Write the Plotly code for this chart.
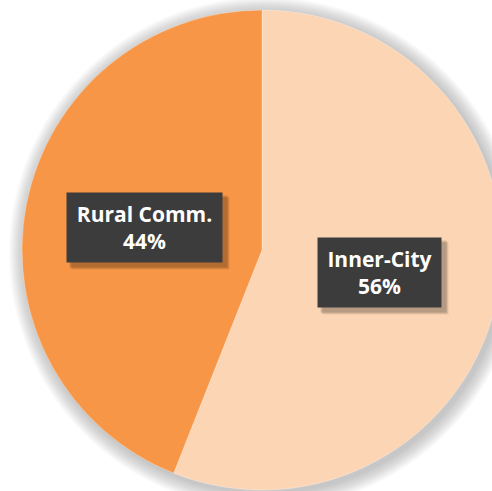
import math
import plotly.graph_objects as go

labels = ["Inner-City", "Rural Comm."]
values = [56, 44]
colors = ["#FCD5B4", "#F79646"]

W, H = 502, 491
CX, CY, R = 262, 250, 240  # pixel center / radius (from top-left)

fig = go.Figure()
fig.add_trace(go.Pie(
    labels=labels, values=values, sort=False, direction="clockwise", rotation=0,
    marker=dict(colors=colors, line=dict(color="rgba(255,255,255,0.5)", width=0.6)),
    textinfo="none", hoverinfo="label+percent", showlegend=False,
    domain=dict(x=[(CX - R) / W, (CX + R) / W], y=[(H - CY - R) / H, (H - CY + R) / H]),
))

shapes = []
for k in range(16, 0, -1):
    rr = R + k
    shapes.append(dict(type="circle", xref="paper", yref="paper", layer="below",
                       x0=(CX - rr + 3) / W, x1=(CX + rr + 3) / W,
                       y0=(H - CY - rr - 3) / H, y1=(H - CY + rr - 3) / H,
                       fillcolor="rgba(120,120,120,0.03)", line=dict(width=0)))

annotations = []
total = sum(values)
cum = 0
for lab, v in zip(labels, values):
    mid = (cum + v / 2) / total * 2 * math.pi
    cum += v
    px = CX + 0.5 * R * math.sin(mid)
    py = CY - 0.5 * R * math.cos(mid)
    bw = 155 if len(lab) > 10 else 123
    txt = f"<b>{lab}<br>{round(v / total * 100)}%</b>"
    for s, a in ((6, 0.08), (5, 0.1), (4, 0.12)):
        annotations.append(dict(x=(px + s) / W, y=(H - py - s) / H, xref="paper", yref="paper",
                                text=" ", showarrow=False, width=bw, height=69,
                                bgcolor=f"rgba(0,0,0,{a})", xanchor="center", yanchor="middle"))
    annotations.append(dict(x=px / W, y=(H - py) / H, xref="paper", yref="paper",
                            text=txt, showarrow=False, width=bw, height=69,
                            bgcolor="#3C3C3C", borderpad=0,
                            font=dict(family="Open Sans", size=21, color="white"),
                            xanchor="center", yanchor="middle"))

fig.update_layout(width=W, height=H, margin=dict(l=0, r=0, t=0, b=0),
                  paper_bgcolor="white", shapes=shapes, annotations=annotations)

fig.write_html("out.html", config={"displayModeBar": False},
               post_script="document.body.style.margin='0';document.body.style.overflow='hidden';document.documentElement.style.overflow='hidden';")
